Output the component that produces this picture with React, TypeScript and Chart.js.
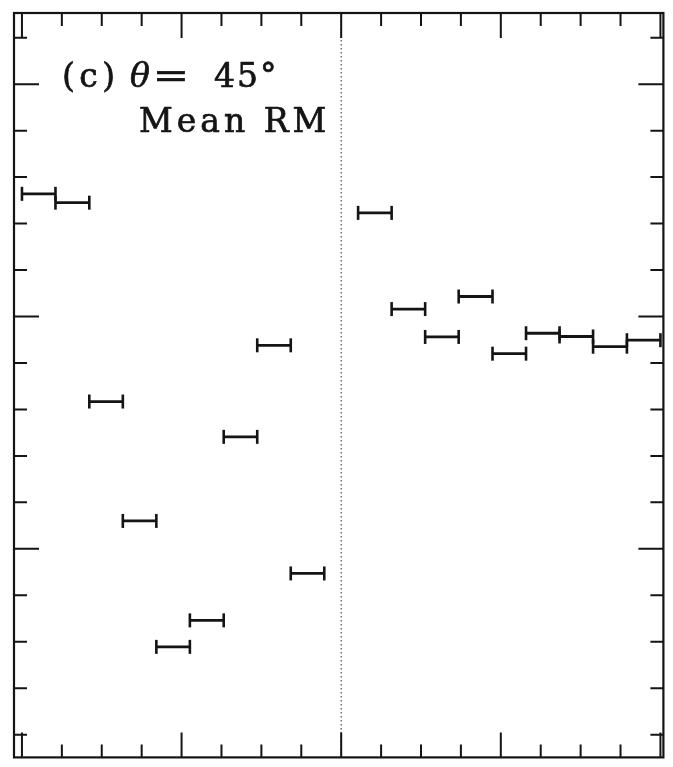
import { useEffect, useRef } from "react";
import { Chart, registerables } from "chart.js";

Chart.register(...registerables);

// ---- data ----
// bin edges along the horizontal axis (axis runs -1 .. 1, 19 bins, centre bin empty)
const binLow = [-1.0, -0.895, -0.789, -0.684, -0.579, -0.474, -0.368, -0.263, -0.158,
  0.053, 0.158, 0.263, 0.368, 0.474, 0.579, 0.684, 0.789, 0.895];
const binHigh = [-0.895, -0.789, -0.684, -0.579, -0.474, -0.368, -0.263, -0.158, -0.053,
  0.158, 0.263, 0.368, 0.474, 0.579, 0.684, 0.789, 0.895, 1.0];
// mean RM in each bin
const meanRM = [26.4, 24.5, -18.3, -44.0, -71.1, -65.4, -25.9, -6.2, -55.3,
  22.3, 1.6, -4.4, 4.3, -8.0, -3.6, -4.3, -6.5, -5.1];

// axis ticks (no tick labels in the reference)
const xTicks = [-1, -0.875, -0.75, -0.625, -0.5, -0.375, -0.25, -0.125, 0,
  0.125, 0.25, 0.375, 0.5, 0.625, 0.75, 0.875, 1];
const xMajorTicks = [-1, -0.5, 0, 0.5, 1];
const yTicks = [-90, -80, -70, -60, -50, -40, -30, -20, -10, 0, 10, 20, 30, 40, 50, 60];
const yMajorTicks = [-50, 0, 50];
const xRange = [-1.0249, 1.0093];
const yRange = [-94.89, 65.32];
const dividerX = 0;

const labelParts = ["(c)", "\u03B8", "=", "45\u00B0"];
const labelLine2 = "Mean RM";

const INK = "#141414";

export default function App() {
  const ref = useRef<HTMLCanvasElement | null>(null);

  useEffect(() => {
    const canvas = ref.current;
    if (!canvas) return;

    const framePlugin = {
      id: "frameTicks",
      afterDatasetsDraw(chart: any) {
        const { ctx, chartArea } = chart;
        const xs = chart.scales.x;
        const ys = chart.scales.y;
        const { left, right, top, bottom } = chartArea;
        ctx.save();
        ctx.strokeStyle = INK;
        ctx.lineWidth = 2;
        ctx.lineCap = "butt";
        ctx.beginPath();
        for (const t of xTicks) {
          const px = xs.getPixelForValue(t);
          const len = xMajorTicks.includes(t) ? 25 : 13;
          ctx.moveTo(px, top);
          ctx.lineTo(px, top + len);
          ctx.moveTo(px, bottom);
          ctx.lineTo(px, bottom - len);
        }
        for (const t of yTicks) {
          const py = ys.getPixelForValue(t);
          const len = yMajorTicks.includes(t) ? 25 : 13;
          ctx.moveTo(left, py);
          ctx.lineTo(left + len, py);
          ctx.moveTo(right, py);
          ctx.lineTo(right - len, py);
        }
        ctx.stroke();
        ctx.lineWidth = 2.2;
        ctx.strokeRect(left, top, right - left, bottom - top);
        ctx.restore();
      },
      afterDraw(chart: any) {
        const { ctx } = chart;
        ctx.save();
        ctx.fillStyle = INK;
        ctx.strokeStyle = INK;
        ctx.lineWidth = 0.7;
        ctx.textBaseline = "alphabetic";
        ctx.textAlign = "left";
        const upright = '33px "DejaVu Serif"';
        const italic = 'italic 33px "DejaVu Serif"';
        const put = (txt: string, x: number, y: number, spacing: string, font: string, sx = 1) => {
          ctx.save();
          ctx.font = font;
          (ctx as any).letterSpacing = spacing;
          ctx.translate(x, y);
          ctx.scale(sx, 1);
          ctx.fillText(txt, 0, 0);
          ctx.strokeText(txt, 0, 0);
          ctx.restore();
        };
        put(labelParts[0], 62, 87, "4.5px", upright);
        put(labelParts[1], 130, 87, "0px", italic);
        put(labelParts[2], 153, 87, "0px", upright, 1.3);
        put(labelParts[3], 214, 87, "2px", upright);
        put(labelLine2, 139, 132, "4px", upright);
        ctx.restore();
      },
    };

    const barSets = binLow.map((lo, i) => ({
      data: [
        { x: lo, y: meanRM[i] },
        { x: binHigh[i], y: meanRM[i] },
      ],
      showLine: true,
      borderColor: INK,
      borderWidth: 2.8,
      pointStyle: "line",
      pointRotation: 90,
      pointRadius: 7,
      pointHoverRadius: 7,
      pointBorderWidth: 2.6,
      pointBorderColor: INK,
      pointBackgroundColor: INK,
      clip: false,
    }));

    const dividerSet = {
      data: [
        { x: dividerX, y: yRange[0] },
        { x: dividerX, y: yRange[1] },
      ],
      showLine: true,
      borderColor: "#555555",
      borderWidth: 1.3,
      borderDash: [1.5, 2.5],
      pointRadius: 0,
      pointHoverRadius: 0,
    };

    const chart = new Chart(canvas, {
      type: "scatter",
      data: { datasets: [...barSets, dividerSet] as any },
      options: {
        responsive: false,
        maintainAspectRatio: false,
        devicePixelRatio: 1,
        animation: false,
        events: [],
        layout: { padding: { left: 14, right: 5, top: 13, bottom: 1 } },
        scales: {
          x: { type: "linear", min: xRange[0], max: xRange[1], display: false },
          y: { type: "linear", min: yRange[0], max: yRange[1], display: false },
        },
        plugins: {
          legend: { display: false },
          tooltip: { enabled: false },
          title: { display: false },
        },
      },
      plugins: [framePlugin],
    });

    return () => chart.destroy();
  }, []);

  return (
    <div
      style={{
        position: "fixed",
        left: 0,
        top: 0,
        width: 673,
        height: 767,
        background: "#ffffff",
      }}
    >
      <canvas ref={ref} width={673} height={767} style={{ display: "block", width: 673, height: 767 }} />
    </div>
  );
}
